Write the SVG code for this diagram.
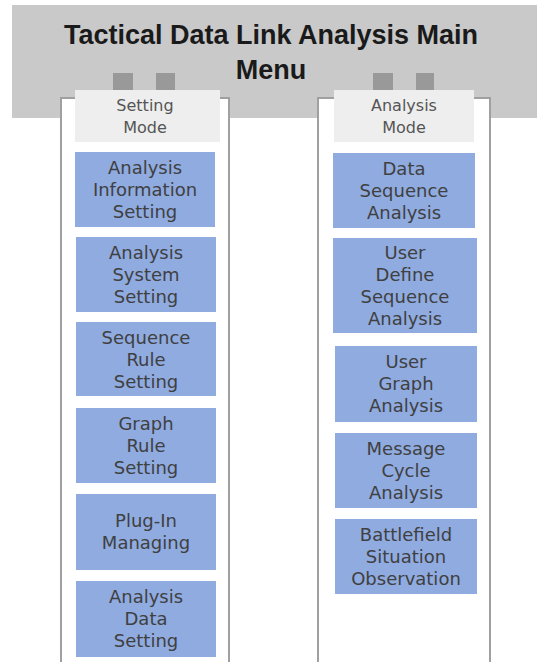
<svg xmlns="http://www.w3.org/2000/svg" width="537" height="662" viewBox="0 0 537 662">
<defs>
<style>
.bg{fill:#c9c9c9}
.title{font-family:"Liberation Sans",Arial,sans-serif;font-weight:bold;font-size:27px;fill:#1a1a1a;text-anchor:middle}
.tab{fill:#999999}
.panel{fill:#ffffff;stroke:#a0a0a0;stroke-width:2}
.head{fill:#eeeeee}
.htxt{font-family:"DejaVu Sans",sans-serif;font-size:16px;fill:#555555;text-anchor:middle}
.box{fill:#8fabe0}
.btxt{font-family:"DejaVu Sans",sans-serif;font-size:18px;fill:#404040;text-anchor:middle}
</style>
</defs>
<rect class="bg" x="12" y="5" width="525" height="113"/>
<g id="title">
<text class="title" x="271" y="44">Tactical Data Link Analysis Main</text>
<text class="title" x="271" y="79">Menu</text>
</g>
<g id="tabs">
<rect class="tab" x="113" y="73" width="20" height="17"/>
<rect class="tab" x="156" y="73" width="19" height="17"/>
<rect class="tab" x="373" y="73" width="20" height="17"/>
<rect class="tab" x="416" y="73" width="18" height="17"/>
</g>
<g id="setting-panel">
<rect class="panel" x="61" y="98" width="168" height="570"/>
<rect class="head" x="75" y="90" width="145" height="52"/>
<text class="htxt" x="145" y="111">Setting</text>
<text class="htxt" x="145" y="133">Mode</text>
</g>
<g id="analysis-panel">
<rect class="panel" x="318" y="98" width="172" height="570"/>
<rect class="head" x="334" y="90" width="140" height="52"/>
<text class="htxt" x="404" y="111">Analysis</text>
<text class="htxt" x="404" y="133">Mode</text>
</g>
<g id="s1"><rect class="box" x="75" y="152" width="140" height="75"/>
<text class="btxt" x="145" y="174">Analysis</text><text class="btxt" x="145" y="196">Information</text><text class="btxt" x="145" y="218">Setting</text></g>
<g id="s2"><rect class="box" x="76" y="237" width="140" height="75"/>
<text class="btxt" x="146" y="259">Analysis</text><text class="btxt" x="146" y="281">System</text><text class="btxt" x="146" y="303">Setting</text></g>
<g id="s3"><rect class="box" x="76" y="322" width="140" height="74"/>
<text class="btxt" x="146" y="344">Sequence</text><text class="btxt" x="146" y="366">Rule</text><text class="btxt" x="146" y="388">Setting</text></g>
<g id="s4"><rect class="box" x="76" y="408" width="140" height="75"/>
<text class="btxt" x="146" y="430">Graph</text><text class="btxt" x="146" y="452">Rule</text><text class="btxt" x="146" y="474">Setting</text></g>
<g id="s5"><rect class="box" x="76" y="494" width="140" height="76"/>
<text class="btxt" x="146" y="527">Plug-In</text><text class="btxt" x="146" y="549">Managing</text></g>
<g id="s6"><rect class="box" x="76" y="581" width="140" height="76"/>
<text class="btxt" x="146" y="603">Analysis</text><text class="btxt" x="146" y="625">Data</text><text class="btxt" x="146" y="647">Setting</text></g>
<g id="a1"><rect class="box" x="333" y="153" width="142" height="75"/>
<text class="btxt" x="404" y="175">Data</text><text class="btxt" x="404" y="197">Sequence</text><text class="btxt" x="404" y="219">Analysis</text></g>
<g id="a2"><rect class="box" x="333" y="238" width="144" height="95"/>
<text class="btxt" x="405" y="259">User</text><text class="btxt" x="405" y="281">Define</text><text class="btxt" x="405" y="303">Sequence</text><text class="btxt" x="405" y="325">Analysis</text></g>
<g id="a3"><rect class="box" x="335" y="346" width="142" height="76"/>
<text class="btxt" x="406" y="368">User</text><text class="btxt" x="406" y="390">Graph</text><text class="btxt" x="406" y="412">Analysis</text></g>
<g id="a4"><rect class="box" x="335" y="433" width="142" height="75"/>
<text class="btxt" x="406" y="455">Message</text><text class="btxt" x="406" y="477">Cycle</text><text class="btxt" x="406" y="499">Analysis</text></g>
<g id="a5"><rect class="box" x="335" y="519" width="142" height="75"/>
<text class="btxt" x="406" y="541">Battlefield</text><text class="btxt" x="406" y="563">Situation</text><text class="btxt" x="406" y="585">Observation</text></g>
<g id="connectors"></g>
</svg>
